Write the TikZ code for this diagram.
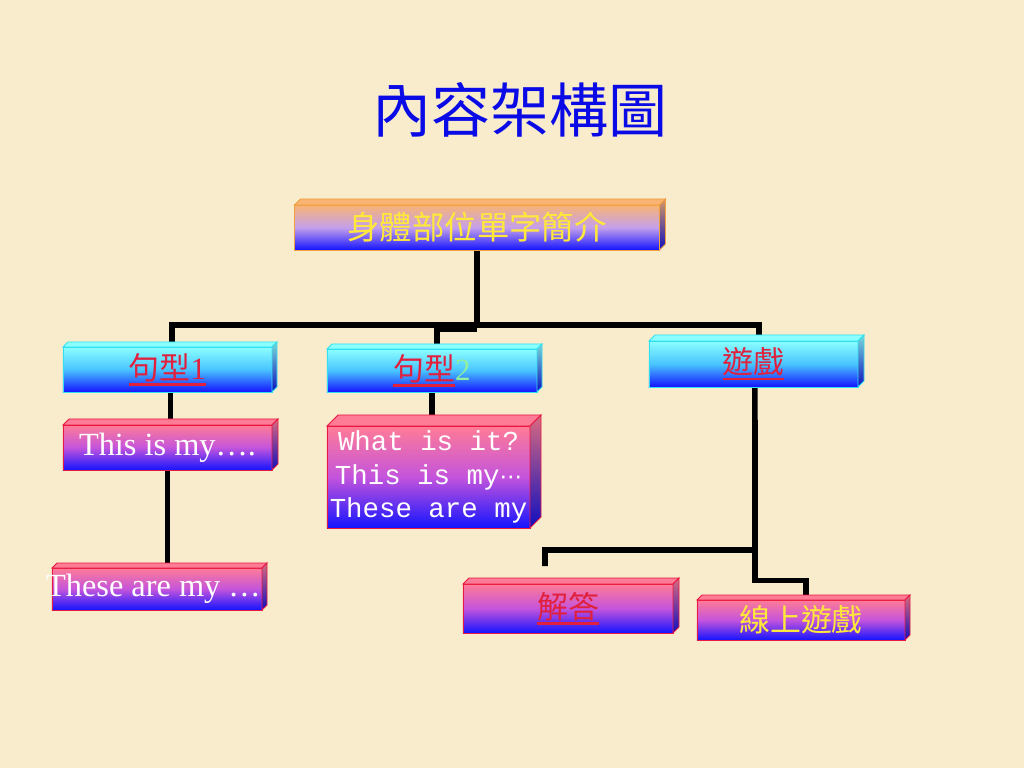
\documentclass[tikz,border=0pt]{standalone}
\usepackage{fontspec}
\setmainfont{Liberation Serif}
\setmonofont{Liberation Mono}
\newfontfamily\cjk{Noto Sans CJK TC}
\newfontfamily\dejavu{DejaVu Sans}
\usetikzlibrary{calc}
\pgfdeclarelayer{back}
\pgfsetlayers{back,main}
\newcommand{\redline}[1]{\setbox0\hbox{#1}\rlap{\rule[-4.5pt]{\wd0}{1.6pt}}\box0}
\definecolor{Paper}{HTML}{F8ECCC}
\definecolor{TitleBlue}{HTML}{0A0AE6}
\definecolor{Peach}{HTML}{F9B474}
\definecolor{Lavender}{HTML}{C4A0EC}
\definecolor{PeachEdge}{HTML}{F0A040}
\definecolor{Aqua}{HTML}{8CFFFF}
\definecolor{Sky}{HTML}{48C4FF}
\definecolor{AquaEdge}{HTML}{30E0F0}
\definecolor{Rose}{HTML}{FF7C96}
\definecolor{Orchid}{HTML}{C454DC}
\definecolor{RoseEdge}{HTML}{E81840}
\definecolor{DeepBlue}{HTML}{1414FF}
\definecolor{Gold}{HTML}{FFE83A}
\definecolor{LinkRed}{HTML}{E0203C}
\definecolor{Mint}{HTML}{90F0A0}

\begin{document}
\begin{tikzpicture}[
  x=0.025cm, y=-0.025cm,
  box/.style={inner sep=0pt, outer sep=0pt, line width=0.6pt, font=\cjk\fontsize{22}{24}\selectfont},
  peachbox/.style={box, draw=PeachEdge, top color=Peach, bottom color=DeepBlue, middle color=Lavender},
  aquabox/.style={box, draw=AquaEdge, top color=Aqua, bottom color=DeepBlue, middle color=Sky},
  rosebox/.style={box, draw=RoseEdge, top color=Rose, bottom color=DeepBlue, middle color=Orchid},
  latin/.style={font=\rmfamily\fontsize{23}{26}\selectfont, text=white},
  link/.style={draw=black, line width=4pt}
]
\useasboundingbox (0,0) rectangle (1024,768);
\begin{pgfonlayer}{back}
\fill[Paper] (0,0) rectangle (1024,768);
\end{pgfonlayer}
\node[font=\cjk\fontsize{42}{46}\selectfont, text=TitleBlue] (title) at (520,110) {內容架構圖};
% boxes
\node[peachbox, minimum width=9.125cm, minimum height=1.125cm, text=Gold, font=\cjk\fontsize{23}{25}\selectfont] (top) at (477,227.5) {身體部位單字簡介};
\node[aquabox, minimum width=5.225cm, minimum height=1.125cm, text=LinkRed] (s1) at (167.5,369.5) {\redline{句型\rmfamily 1}};
\node[aquabox, minimum width=5.25cm, minimum height=1.075cm, text=LinkRed] (s2) at (432,370.5) {\redline{句型}{\rmfamily\color{Mint}2}};
\node[aquabox, minimum width=5.225cm, minimum height=1.15cm, text=LinkRed] (game) at (753.5,364) {\redline{遊戲}};
\node[rosebox, latin, minimum width=5.225cm, minimum height=1.125cm] (this) at (167.5,447.5) {\raisebox{-2pt}{This is my….}};
\node[rosebox, minimum width=5.075cm, minimum height=2.55cm, align=center, text=white, font=\ttfamily\fontsize{19.5}{24}\selectfont] (what) at (428.5,477) {What is it?\\This is my{\dejavu\fontsize{16}{24}\selectfont ⋯}\\These are my};
\node[rosebox, latin, minimum width=5.25cm, minimum height=1.05cm] (these) at (157,589) {\makebox[0pt]{These are my …\hspace{5pt}}};
\node[rosebox, minimum width=5.25cm, minimum height=1.225cm, text=LinkRed] (ans) at (568,608.5) {\redline{解答}};
\node[rosebox, minimum width=5.2cm, minimum height=1.0cm, text=Gold] (online) at (801,620) {線上遊戲};
% top and side faces
\foreach \n/\dd/\c/\e in {top/6/Peach/PeachEdge, s1/5/Aqua/AquaEdge, s2/5/Aqua/AquaEdge, game/6/Aqua/AquaEdge, this/6/Rose/RoseEdge, what/11/Rose/RoseEdge, these/5/Rose/RoseEdge, ans/6/Rose/RoseEdge, online/5/Rose/RoseEdge}{
  \filldraw[fill=\c, draw=\e, line width=0.6pt] (\n.north west) -- ++(\dd,-\dd) -- ($(\n.north east)+(\dd,-\dd)$) -- (\n.north east) -- cycle;
  \shadedraw[top color=\c!85!black, bottom color=DeepBlue!75!black, draw=\e, line width=0.6pt] (\n.north east) -- ++(\dd,-\dd) -- ($(\n.south east)+(\dd,-\dd)$) -- (\n.south east) -- cycle;
}
% connectors
\coordinate (fork) at (477,325);
\coordinate (split) at (755,550);
\coordinate (ansend) at (545,566);
\begin{pgfonlayer}{back}
\draw[link] (top.south) -- (fork);
\draw[link] (fork) -| ([xshift=3pt]s1.north);
\draw[link] ([yshift=-3pt]fork) -| ([xshift=3.5pt]s2.north);
\draw[link] (fork) -| ([xshift=4pt]game.north);
\draw[link] ([xshift=2pt]s1.south) -- ([xshift=2pt]this.north);
\draw[link] (this.south) -- (this.south |- these.north);
\draw[link] (s2.south) -- (s2.south |- what.north);
\draw[link] ([xshift=1pt]game.south) -- (split) -| (ansend);
\draw[link] (split) |- ([xshift=3.5pt,yshift=14pt]online.north) -- ([xshift=3.5pt]online.north);
\end{pgfonlayer}
\end{tikzpicture}
\end{document}
